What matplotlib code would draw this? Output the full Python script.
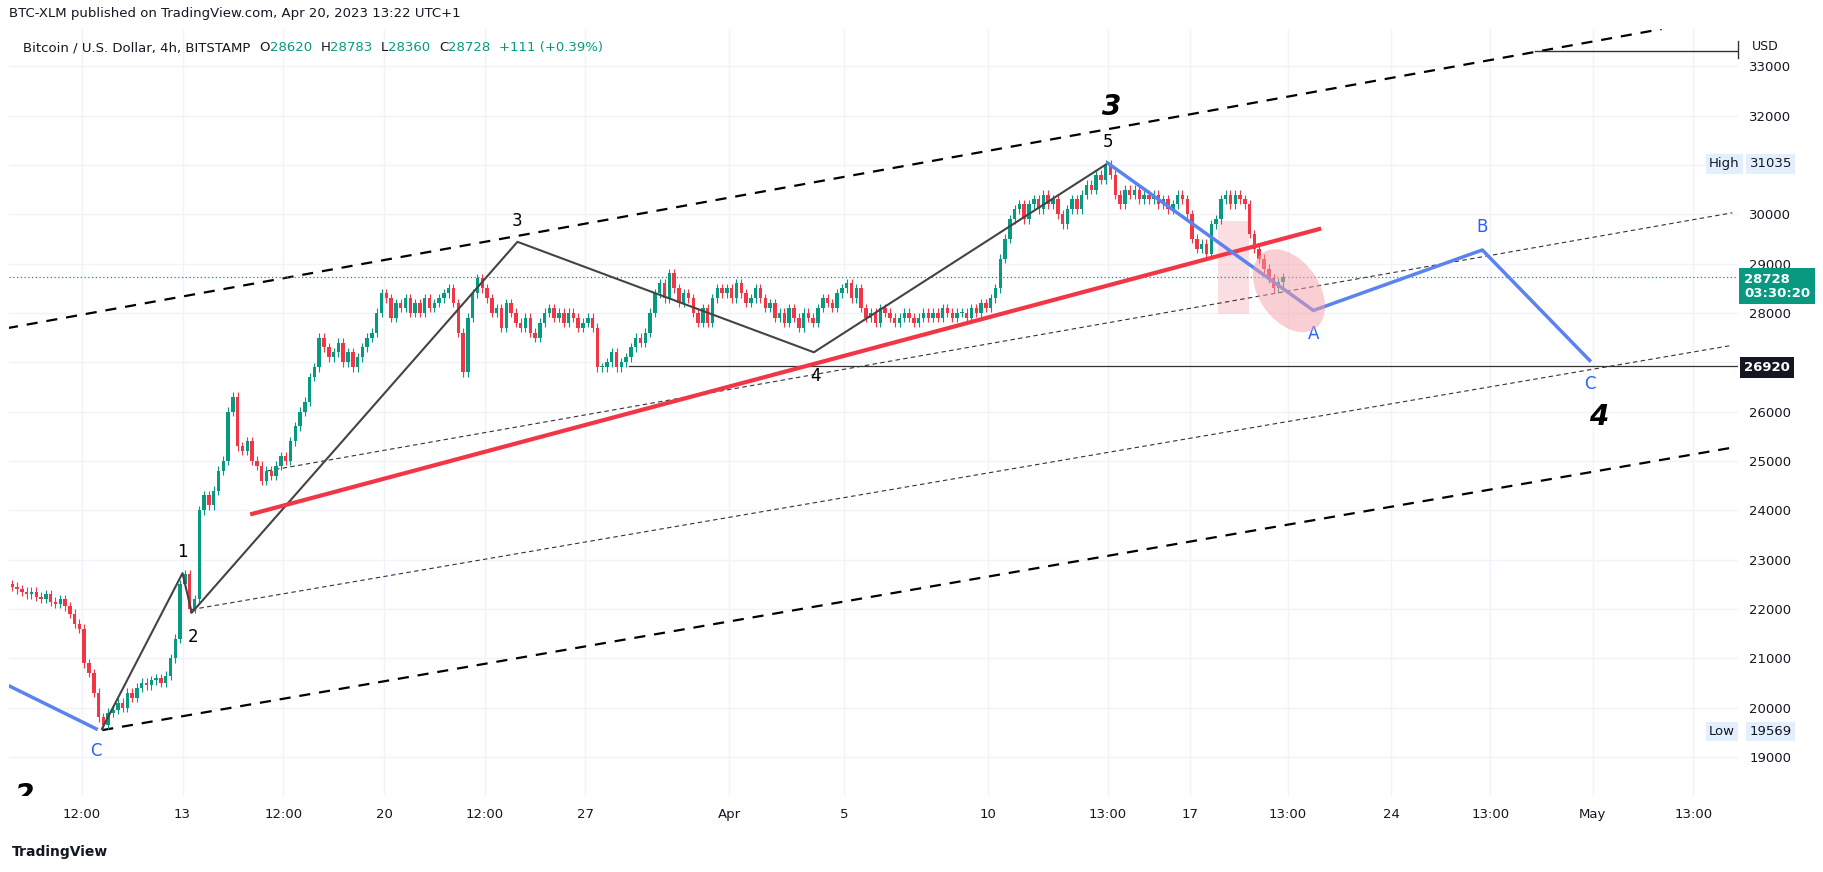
import matplotlib
matplotlib.use("Agg")
import matplotlib.pyplot as plt
import matplotlib.transforms as mtrans
from matplotlib.patches import Ellipse, Rectangle
import numpy as np

# ---- data ----
closes = [
 22450,22400,22350,22300,22350,22250,
 22200,22300,22150,22100,22200,22050,
 21900,21700,21600,20900,20700,20300,
 19800,19650,19900,19950,20100,20000,
 20300,20200,20400,20500,20450,20550,
 20600,20500,20650,21000,21400,22500,
 22700,22000,22200,24000,24300,24100,
 24400,24800,25000,26000,26300,25300,
 25200,25400,25000,24900,24600,24800,
 24700,24900,25100,25000,25400,25700,
 26000,26200,26700,26900,27500,27300,
 27100,27200,27400,27000,27200,26900,
 27100,27300,27500,27600,28000,28400,
 28300,27900,28200,28100,28300,28000,
 28200,28000,28300,28100,28200,28300,
 28400,28500,28200,27600,26800,27900,
 28400,28700,28500,28300,28000,28100,
 27700,28200,28000,27800,27700,27900,
 27600,27500,27800,28000,28100,27900,
 28000,27800,28000,27900,27700,27800,
 27900,27700,26900,26900,27000,27200,
 26900,27000,27100,27300,27500,27400,
 27600,28000,28400,28600,28300,28800,
 28500,28200,28400,28300,28000,27800,
 28100,27800,28300,28500,28400,28500,
 28300,28600,28400,28200,28300,28500,
 28300,28100,28200,27900,28000,27800,
 28100,27900,27700,28000,27900,27800,
 28100,28300,28200,28100,28400,28500,
 28600,28300,28500,28100,27900,28000,
 27800,28100,28000,27900,27800,27900,
 28000,27900,27800,27900,28000,27900,
 28000,27900,28100,28000,27900,28000,
 28000,27900,28100,28000,28200,28100,
 28300,28500,29100,29500,29900,30100,
 30200,29900,30200,30300,30100,30400,
 30200,30300,30000,29800,30100,30300,
 30100,30400,30600,30500,30800,30700,
 31000,30800,30400,30200,30500,30400,
 30500,30300,30400,30300,30400,30200,
 30300,30100,30200,30400,30300,30000,
 29500,29300,29400,29200,29800,29900,
 30300,30400,30200,30400,30300,30200,
 29600,29300,29100,28900,28700,28500,
 28620,28728,
]
first_open = 22500
start_day = -6.0          # day index of first candle (0 = Mar 13)
wick = 90

wave_x = [-2.8, 0.0, 0.32, 11.64, 21.94, 32.16]
wave_y = [19569, 22725, 21923, 29441, 27202, 31035]
wave_labels = ["", "1", "2", "3", "4", "5"]
blueL_x = [-6.02, -3.0]
blueL_y = [20438, 19569]
blueR_x = [32.16, 39.3, 45.17, 48.9]
blueR_y = [31035, 28050, 29276, 27037]
red_x = [2.42, 39.5]
red_y = [23926, 29700]
chan_up_x = [-6.1, 51.4]; chan_up_y = [27690, 33754]
chan_lo_x = [-2.79, 53.86]; chan_lo_y = [19543, 25270]
thin1_x = [0.32, 53.86]; thin1_y = [21988, 27344]
thin2_x = [2.95, 53.86]; thin2_y = [24798, 30030]
level = 26920; level_start = 15.5
last_price = 28728
high_price = 31035; low_price = 19569
xtick_pos = [-3.5, 0, 3.5, 7, 10.5, 14, 19, 23, 28, 32.16, 35, 38.4, 42, 45.45, 49, 52.5]
xtick_lab = ["12:00","13","12:00","20","12:00","27","Apr","5","10","13:00","17","13:00","24","13:00","May","13:00"]
ytick_pos = list(range(19000, 33001, 1000))
ytick_hidden = [27000]   # covered by the 26920 label in the reference

GREEN = "#089981"; RED = "#f23645"; BLUE = "#5b83f0"; LBLUE = "#2962ff"
W, H = 1568, 750
def P(x, y): return (x / W, 1 - y / H)

fig = plt.figure(figsize=(18.23, 8.72), dpi=100)
ax = fig.add_axes([8/W, 1-685/H, (1495-8)/W, (685-25)/H])
ax.set_xlim(-6.02, 54.06)
ax.set_ylim(18199, 33754)

# candles
opens = [first_open] + closes[:-1]
t = np.array([start_day + i/6 + 1/12 for i in range(len(closes))])
o = np.array(opens); c = np.array(closes)
up = c >= o
hi = np.maximum(o, c) + wick; lo = np.minimum(o, c) - wick
cols = np.where(up, GREEN, RED)
ax.vlines(t, lo, hi, colors=cols, lw=0.8, zorder=3)
ax.bar(t, np.maximum(np.abs(c-o), 15), bottom=np.minimum(o, c), width=0.12, color=cols, zorder=4)

# grid
for xp in xtick_pos: ax.axvline(xp, color="#f0f3fa", lw=1, zorder=0)
for yp in ytick_pos: ax.axhline(yp, color="#f0f3fa", lw=1, zorder=0)

# lines
ax.plot(chan_up_x, chan_up_y, color="black", lw=1.6, ls=(0, (5, 4)), zorder=2)
ax.plot(chan_lo_x, chan_lo_y, color="black", lw=1.6, ls=(0, (5, 4)), zorder=2)
ax.plot(thin1_x, thin1_y, color="#333", lw=0.8, ls=(0, (4, 3)), zorder=2)
ax.plot(thin2_x, thin2_y, color="#333", lw=0.8, ls=(0, (4, 3)), zorder=2)
ax.plot([level_start, 54.06], [level, level], color="#333", lw=0.9, zorder=2)
ax.axhline(last_price, color=GREEN, lw=0.9, ls=(0, (1, 2)), zorder=2)
ax.plot(wave_x, wave_y, color="#444", lw=1.5, zorder=5)
ax.plot(red_x, red_y, color=RED, lw=3, zorder=5)
ax.plot(blueL_x, blueL_y, color=BLUE, lw=2.5, zorder=5)
ax.plot(blueR_x, blueR_y, color=BLUE, lw=2.5, zorder=5)
ax.add_patch(Rectangle((36.0, 27980), 1.05, 1885, color="#f8c8d0", alpha=0.6, zorder=1, lw=0))
# tilted ellipse drawn in display pixels around a data point
cx, cy = ax.transData.transform((38.45, 28450))
ell = Ellipse((0, 0), 92, 60, angle=-55, color="#f4a0a8", alpha=0.5, lw=0,
              transform=mtrans.Affine2D().translate(cx, cy), zorder=1)
fig.add_artist(ell)

fs = 12
for x, y, l in zip(wave_x, wave_y, wave_labels):
    if l in ("1", "3", "5"):
        ax.text(x, y + 250, l, ha="center", va="bottom", fontsize=fs)
    elif l:
        ax.text(x + 0.05, y - 300, l, ha="center", va="top", fontsize=fs)
ax.text(-3.0, 19300, "C", color=LBLUE, ha="center", va="top", fontsize=fs)
ax.text(39.3, 27750, "A", color=LBLUE, ha="center", va="top", fontsize=fs)
ax.text(45.17, 29550, "B", color=LBLUE, ha="center", va="bottom", fontsize=fs)
ax.text(48.9, 26750, "C", color=LBLUE, ha="center", va="top", fontsize=fs)
ax.text(32.3, 31900, "3", fontsize=20, fontweight="bold", style="italic", ha="center", va="bottom")
ax.text(49.2, 25900, "4", fontsize=20, fontweight="bold", style="italic", ha="center", va="center")
ax.text(-5.5, 18199, "2", fontsize=20, fontweight="bold", style="italic", ha="center", va="center", clip_on=True)
ax.plot([47.0, 54.06], [33306, 33306], color="#333", lw=1, zorder=2)

ax.set_xticks(xtick_pos); ax.set_xticklabels(xtick_lab, fontsize=9.5, color="#131722")
ax.yaxis.tick_right()
ax.set_yticks(ytick_pos)
ax.set_yticklabels(["" if v in ytick_hidden else str(v) for v in ytick_pos], fontsize=9.5, color="#131722")
ax.tick_params(length=0, pad=8)
for s in ax.spines.values(): s.set_visible(False)

# right-axis boxes
box = dict(boxstyle="square,pad=0.25", fc="#e3effd", ec="none")
fig.text(*P(1470, 141), "High", fontsize=9.5, va="center", color="#131722", bbox=box)
fig.text(*P(1505, 141), "31035", fontsize=9.5, va="center", color="#131722", bbox=box)
fig.text(*P(1470, 629), "Low", fontsize=9.5, va="center", color="#131722", bbox=box)
fig.text(*P(1505, 629), "19569", fontsize=9.5, va="center", color="#131722", bbox=box)
fig.text(*P(1500, 246), "28728\n03:30:20", fontsize=9.5, va="center", color="white", fontweight="bold",
         linespacing=1.1, bbox=dict(boxstyle="square,pad=0.35", fc=GREEN, ec="none"))
fig.text(*P(1500, 316), "26920", fontsize=9.5, va="center", color="white", fontweight="bold",
         bbox=dict(boxstyle="square,pad=0.3", fc="#131722", ec="none"))
fig.text(*P(1507, 40), "USD", fontsize=9, va="center", color="#131722")
fig.add_artist(plt.Line2D([1495/W, 1495/W], [1-35/H, 1-50/H], color="#333", lw=1))

# header
fig.text(*P(8, 12), "BTC-XLM published on TradingView.com, Apr 20, 2023 13:22 UTC+1", fontsize=9.5,
         va="center", color="#131722")
parts = [("Bitcoin / U.S. Dollar, 4h, BITSTAMP  ", "#131722"), ("O", "#131722"), ("28620  ", GREEN),
         ("H", "#131722"), ("28783  ", GREEN), ("L", "#131722"), ("28360  ", GREEN),
         ("C", "#131722"), ("28728  ", GREEN), ("+111 (+0.39%)", GREEN)]
r = fig.canvas.get_renderer()
xx = 20 / W
for txt, col in parts:
    tt = fig.text(xx, 1 - 41/H, txt, fontsize=9.5, va="center", color=col)
    xx += tt.get_window_extent(renderer=r).width / fig.bbox.width
fig.text(*P(10, 733), "TradingView", fontsize=10, va="center", color="#131722", fontweight="bold")

fig.savefig("out.png", dpi=100, facecolor="white")
